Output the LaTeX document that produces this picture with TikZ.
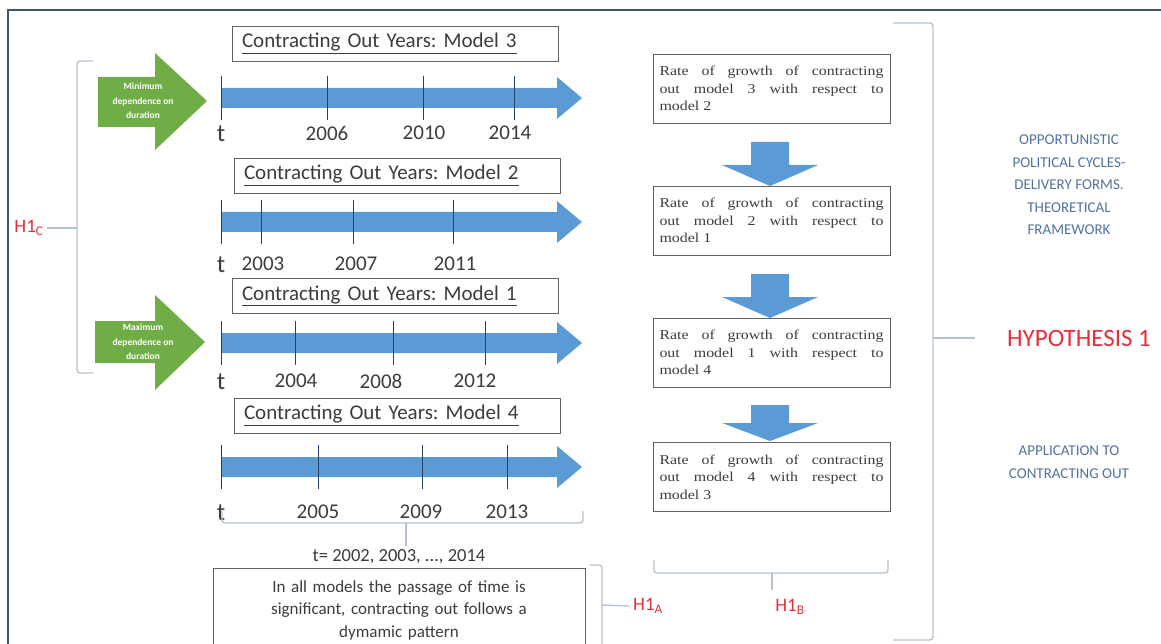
\documentclass[tikz,border=0pt]{standalone}
\usepackage{fontspec}
\setmainfont{Carlito}
\newfontfamily\ratefont[FakeStretch=1.18]{Liberation Serif}
\usepackage{tikz}
\usetikzlibrary{positioning}
\definecolor{Frame}{HTML}{44546A}
\definecolor{Sky}{HTML}{5B9BD5}
\definecolor{Leaf}{HTML}{70AD47}
\definecolor{Tick}{HTML}{22426C}
\definecolor{Brace}{HTML}{B5C1D1}
\definecolor{Hyp}{HTML}{E3303B}
\definecolor{Theory}{HTML}{52729C}
\definecolor{Ink}{HTML}{3C3C3C}
\newcommand{\fsz}[2]{\fontsize{#1}{#2}\selectfont}
\frenchspacing

\tikzset{
  yearbox/.style={draw=Ink!80, line width=0.9, text width=306, align=left,
    inner xsep=10, minimum height=35, text=Ink, font=\fsz{21}{24}},
  ratebox/.style={draw=Ink!80, line width=0.9, text width=224, align=justify,
    inner xsep=6.5, minimum height=69, text=Ink, font=\ratefont\fsz{13.5}{17.5}},
  yearlbl/.style={text=Ink, font=\fsz{21}{24}},
  tlbl/.style={text=Ink, font=\fsz{25}{27}},
  greentext/.style={text=white, align=center, font=\bfseries\fsz{9.5}{14.5}},
  brace/.style={draw=Brace, line width=1.3, rounded corners=3},
  hyplbl/.style={text=Hyp, font=\fsz{19}{21}}
}

\begin{document}
\begin{tikzpicture}[x=1pt,y=-1pt]
\useasboundingbox (0,0) rectangle (1161,644);

% frame
\draw [Frame, line width=2.2] (8,650) -- (8,10) -- (1161,10);

% year boxes
\node [yearbox] (model3) at (395,43.5) {\underline{Contracting Out Years: Model 3}};
\node [yearbox] (model2) at (397,175.5) {\underline{Contracting Out Years: Model 2}};
\node [yearbox] (model1) at (395,296) {\underline{Contracting Out Years: Model 1}};
\node [yearbox] (model4) at (397,415.5) {\underline{Contracting Out Years: Model 4}};

% time lines
\foreach \yc/\yl/\ta/\tb/\tc/\la/\lb/\lc/\na/\nb/\nc in {
    98/133/327/423/514/327/424/510/2006/2010/2014,
    222/264/261/353/453/263/356/455/2003/2007/2011,
    343/381/295/393/485/296/381/475/2004/2008/2012,
    467/512/318/422/507/318/421/507/2005/2009/2013}{
  \fill [Sky] (221,\yc-10) -- (557,\yc-10) -- (557,\yc-21) -- (582,\yc)
    -- (557,\yc+21) -- (557,\yc+10) -- (221,\yc+10) -- cycle;
  \foreach \x in {221,\ta,\tb,\tc}
    \draw [Tick, line width=0.9] (\x,\yc-22) -- (\x,\yc+22);
  \node [tlbl] at (221,\yl+1) {t};
  \node [yearlbl] at (\la,\yl) {\na};
  \node [yearlbl] at (\lb,\yl) {\nb};
  \node [yearlbl] at (\lc,\yl) {\nc};
}

% green arrows
\fill [Leaf] (98,77) -- (155,77) -- (155,53) -- (207,101) -- (155,150) -- (155,127) -- (98,127) -- cycle;
\node [greentext] (mindep) at (143,101) {Minimum\\dependence on\\duration};
\fill [Leaf] (95,321) -- (155,321) -- (155,295) -- (205,342) -- (155,390) -- (155,363) -- (95,363) -- cycle;
\node [greentext] (maxdep) at (143,342) {Maximum\\dependence on\\duration};

% H1_C
\node [hyplbl] (h1c) at (29,228) {H1\textsubscript{C}};
\draw [brace] (93,61) -- (77,61) -- (77,373) -- (93,373);
\draw [brace] (77,228) -- (h1c.east);

% t brace
\node [text=Ink, font=\fsz{18.5}{22}] (tyears) at (399,557) {t= 2002, 2003, ..., 2014};
\draw [brace] (222,511) -- (222,523) -- (583,523) -- (583,511);
\draw [brace] (406,523) -- (tyears.north -| 406,0);

% passage box
\node [draw=Ink!80, line width=0.9, minimum width=372, minimum height=84, text width=350,
  align=center, text=Ink, font=\fsz{17}{22.5}] (passage) at (399,610)
  {In all models the passage of time is\\significant, contracting out follows a\\dymamic pattern};

% H1_A
\node [hyplbl] (h1a) at (648,606) {H1\textsubscript{A}};
\draw [brace] (590,565) -- (602,565) -- (602,652);
\draw [brace] (602,605) -- (h1a.west);

% rate boxes
\node [ratebox] (rate3) at (771.5,88.5) {Rate of growth of contracting\linebreak out model 3 with respect to\linebreak model 2};
\node [ratebox] (rate2) at (771.5,220.5) {Rate of growth of contracting\linebreak out model 2 with respect to\linebreak model 1};
\node [ratebox] (rate1) at (771.5,352.5) {Rate of growth of contracting\linebreak out model 1 with respect to\linebreak model 4};
\node [ratebox] (rate4) at (771.5,477) {Rate of growth of contracting\linebreak out model 4 with respect to\linebreak model 3};

\foreach \top/\mid/\tip in {142/165/186, 274/297/318, 405/423/441}
  \fill [Sky] (751,\top) -- (789,\top) -- (789,\mid) -- (818,\mid) -- (770,\tip)
    -- (722,\mid) -- (751,\mid) -- cycle;

% H1_B
\node [hyplbl] (h1b) at (790,607) {H1\textsubscript{B}};
\draw [brace] (654,560) -- (654,573) -- (888,573) -- (888,560);
\draw [brace] (772,573) -- (772,590);

% hypothesis 1
\node [text=Hyp, font=\fsz{25}{28}] (hyp1) at (1079,338) {HYPOTHESIS 1};
\draw [brace] (893,23) -- (933,23) -- (933,640) -- (893,640);
\draw [brace] (933,338) -- (975,338);

\node [text=Theory, align=center, font=\fsz{15}{22.5}] (theory) at (1069,185)
  {OPPORTUNISTIC\\POLITICAL CYCLES-\\DELIVERY FORMS.\\THEORETICAL\\FRAMEWORK};
\node [text=Theory, align=center, font=\fsz{15}{22.5}] (applic) at (1069,462)
  {APPLICATION TO\\CONTRACTING OUT};
\end{tikzpicture}
\end{document}
